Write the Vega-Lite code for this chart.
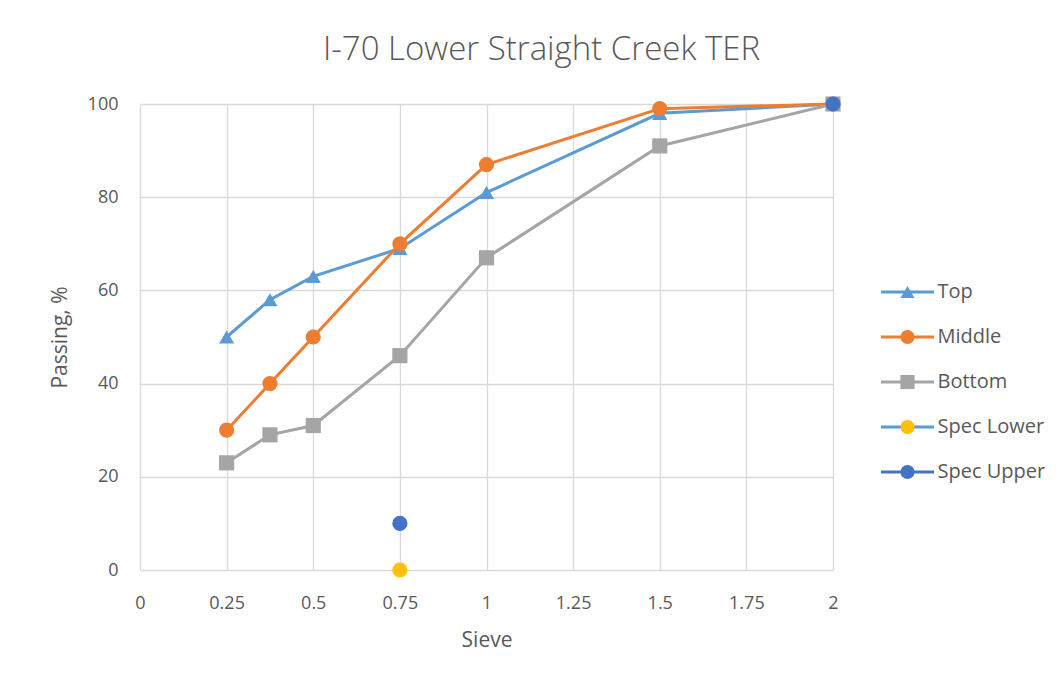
{
  "$schema": "https://vega.github.io/schema/vega-lite/v6.json",
  "width": 693,
  "height": 466,
  "autosize": {"type": "none"},
  "padding": {"left": 140, "top": 104, "right": 231, "bottom": 115},
  "background": "white",
  "config": {
    "view": {"stroke": null},
    "font": "Open Sans",
    "axis": {"labelFont": "Open Sans", "titleFont": "Open Sans", "labelColor": "#595959", "titleColor": "#595959", "labelFontSize": 18, "titleFontSize": 21, "titleFontWeight": "normal", "gridColor": "#D9D9D9", "gridWidth": 1.3, "domain": false, "ticks": false, "labelFlush": false}
  },
  "title": {"text": "I-70 Lower Straight Creek TER", "fontSize": 33, "fontWeight": 300, "color": "#595959", "font": "Open Sans", "anchor": "middle", "dx": 55, "offset": 28},
  "data": {
    "values": [
      {"series": "Top", "sieve": 0.25, "passing": 50},
      {"series": "Top", "sieve": 0.375, "passing": 58},
      {"series": "Top", "sieve": 0.5, "passing": 63},
      {"series": "Top", "sieve": 0.75, "passing": 69},
      {"series": "Top", "sieve": 1, "passing": 81},
      {"series": "Top", "sieve": 1.5, "passing": 98},
      {"series": "Top", "sieve": 2, "passing": 100},
      {"series": "Middle", "sieve": 0.25, "passing": 30},
      {"series": "Middle", "sieve": 0.375, "passing": 40},
      {"series": "Middle", "sieve": 0.5, "passing": 50},
      {"series": "Middle", "sieve": 0.75, "passing": 70},
      {"series": "Middle", "sieve": 1, "passing": 87},
      {"series": "Middle", "sieve": 1.5, "passing": 99},
      {"series": "Middle", "sieve": 2, "passing": 100},
      {"series": "Bottom", "sieve": 0.25, "passing": 23},
      {"series": "Bottom", "sieve": 0.375, "passing": 29},
      {"series": "Bottom", "sieve": 0.5, "passing": 31},
      {"series": "Bottom", "sieve": 0.75, "passing": 46},
      {"series": "Bottom", "sieve": 1, "passing": 67},
      {"series": "Bottom", "sieve": 1.5, "passing": 91},
      {"series": "Bottom", "sieve": 2, "passing": 100},
      {"series": "Spec Lower", "sieve": 0.75, "passing": 0},
      {"series": "Spec Upper", "sieve": 0.75, "passing": 10},
      {"series": "Spec Upper", "sieve": 2, "passing": 100}
    ]
  },
  "encoding": {
    "x": {"field": "sieve", "type": "quantitative", "title": "Sieve",
      "scale": {"domain": [0, 2], "nice": false},
      "axis": {"values": [0, 0.25, 0.5, 0.75, 1, 1.25, 1.5, 1.75, 2], "format": ".6~g", "labelPadding": 24, "titlePadding": 17}},
    "y": {"field": "passing", "type": "quantitative", "title": "Passing, %",
      "scale": {"domain": [0, 100], "nice": false},
      "axis": {"values": [0, 20, 40, 60, 80, 100], "labelPadding": 22, "titlePadding": 17}}
  },
  "layer": [
    {
      "transform": [{"filter": "datum.series === 'Top' || datum.series === 'Middle' || datum.series === 'Bottom'"}],
      "mark": {"type": "line", "strokeWidth": 3},
      "encoding": {
        "stroke": {"field": "series", "type": "nominal",
          "scale": {"domain": ["Top", "Middle", "Bottom", "Spec Lower", "Spec Upper"], "range": ["#5B9BD5", "#ED7D31", "#A5A5A5", "#5B9BD5", "#4472C4"]},
          "legend": {"title": null, "orient": "none", "legendX": 757.5, "legendY": 178, "symbolType": "M-3.75,0H3.75", "symbolSize": 200, "symbolStrokeWidth": 3, "symbolFillColor": "transparent", "labelFontSize": 20, "labelFont": "Open Sans", "labelColor": "#595959", "labelOffset": 20, "rowPadding": 25, "padding": 0, "labelOpacity": 0, "zindex": 1}},
        "order": {"field": "sieve", "type": "quantitative"}
      }
    },
    {
      "mark": {"type": "point", "filled": true, "size": 230, "opacity": 1},
      "encoding": {
        "fill": {"field": "series", "type": "nominal",
          "scale": {"range": ["#A5A5A5", "#ED7D31", "#FFC000", "#4472C4", "#5B9BD5"]},
          "legend": {"title": null, "values": ["Top", "Middle", "Bottom", "Spec Lower", "Spec Upper"], "orient": "none", "legendX": 757.5, "legendY": 178, "symbolSize": 200, "symbolStrokeWidth": 0, "symbolOpacity": 1, "labelFontSize": 20, "labelFont": "Open Sans", "labelColor": "#595959", "labelOffset": 20, "rowPadding": 25, "padding": 0, "zindex": 2}},
        "shape": {"field": "series", "type": "nominal",
          "scale": {"range": ["square", "circle", "circle", "circle", "triangle-up"]},
          "legend": {"title": null, "values": ["Top", "Middle", "Bottom", "Spec Lower", "Spec Upper"], "orient": "none", "legendX": 757.5, "legendY": 178, "symbolSize": 200, "symbolStrokeWidth": 0, "symbolOpacity": 1, "labelFontSize": 20, "labelFont": "Open Sans", "labelColor": "#595959", "labelOffset": 20, "rowPadding": 25, "padding": 0, "zindex": 2}}
      }
    }
  ]
}
